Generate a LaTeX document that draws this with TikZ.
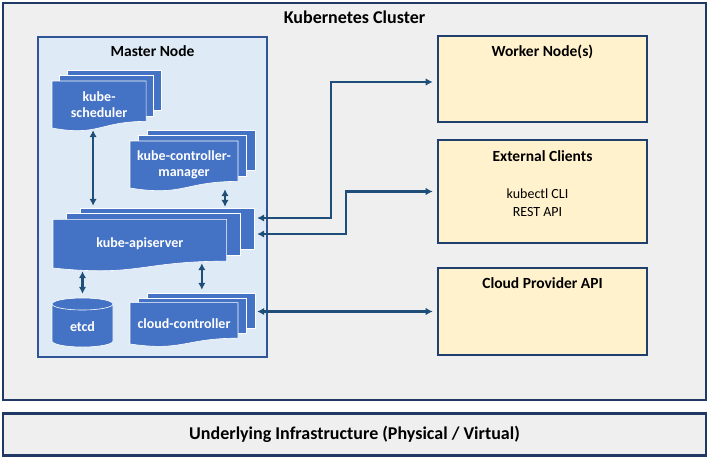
\documentclass[tikz,border=0pt]{standalone}
\usepackage{fontspec}
\setmainfont{Carlito}
\usetikzlibrary{positioning,calc,arrows.meta}

\definecolor{clustergray}{HTML}{EFEFEF}
\definecolor{clusterline}{HTML}{1F3864}
\definecolor{masterfill}{HTML}{DEEBF7}
\definecolor{masterline}{HTML}{2F5597}
\definecolor{workerfill}{HTML}{FFF2CC}
\definecolor{workerline}{HTML}{1F3F6E}
\definecolor{sheetblue}{HTML}{4472C4}
\definecolor{linkblue}{HTML}{1F4E79}

\newcommand\bigfont{\bfseries\fontsize{18}{20}\selectfont}
\newcommand\titlefont{\bfseries\fontsize{15.5}{18}\selectfont}
\newcommand\sheetfont{\bfseries\fontsize{14}{16}\selectfont}

% stacked documents: name, left, top, right, bottom, text
\newcommand\kubestack[6]{%
  \pgfmathsetmacro\kdx{0.068*(#4-#2)}%
  \pgfmathsetmacro\kdy{0.095*(#5-#3)}%
  \pgfmathsetmacro\kfr{#4-2*\kdx}%
  \pgfmathsetmacro\kft{#3+2*\kdy}%
  \pgfmathsetmacro\kfc{\kft+0.859*(#5-\kft)}%
  \pgfmathsetmacro\kfd{\kft+1.185*(#5-\kft)}%
  \pgfmathsetmacro\kfm{(#2+\kfr)/2}%
  \pgfmathsetmacro\kfw{\kfr-#2}%
  \pgfmathsetmacro\kfh{#5-\kft}%
  \pgfmathsetmacro\kbw{#4-#2}%
  \pgfmathsetmacro\kbh{#5-#3}%
  \foreach \k in {2,1}
    \draw[sheet] ({#2+\k*\kdx},{\kft-\k*\kdy}) rectangle ({\kfr+\k*\kdx},{\kfc-\k*\kdy});
  \draw[sheet] (#2,\kft) -- (\kfr,\kft) -- (\kfr,\kfc)
    .. controls (\kfm,\kfc) and (\kfm,\kfd) .. (#2,#5) -- cycle;
  \node[sheettext, minimum width=\kfw pt, minimum height=\kfh pt] (#1) at (\kfm,{(\kft+#5)/2}) {#6};
  \node[inner sep=0pt, minimum width=\kbw pt, minimum height=\kbh pt] (#1-back) at ({(#2+#4)/2},{(#3+#5)/2}) {};
}

\tikzset{
  clusterbox/.style={draw=clusterline, line width=2.6pt, fill=clustergray, inner sep=0pt},
  masterbox/.style={draw=masterline, line width=2pt, fill=masterfill, inner sep=0pt},
  workerbox/.style={draw=workerline, line width=2.6pt, fill=workerfill, inner sep=0pt,
    minimum width=209pt},
  sheet/.style={draw=white, line width=0.6pt, fill=sheetblue},
  sheettext/.style={text=white, font=\sheetfont, align=center, inner sep=0pt},
  titletext/.style={font=\titlefont, inner sep=0pt},
  link/.style={draw=linkblue, line width=2.4pt, <->},
}

\begin{document}
\begin{tikzpicture}[x=1pt, y=-1pt, >={Latex[length=7pt,width=7.5pt]}]
  \useasboundingbox (0,0) rectangle (709,459);

  % Cluster and infrastructure
  \node[clusterbox, minimum width=703pt, minimum height=397pt] (cluster) at (354.5,201.5) {};
  \node[font=\bigfont, inner sep=0pt] (clustertitle) at (354.5,17) {Kubernetes Cluster};
  \node[clusterbox, minimum width=703pt, minimum height=42pt, font=\bigfont] (infra) at (354.5,434.5)
    {Underlying Infrastructure (Physical / Virtual)};

  % Master node
  \node[masterbox, minimum width=229pt, minimum height=320pt] (master) at (152.5,197) {};
  \node[titletext] (mastertitle) at ([yshift=-15pt]master.north) {Master Node};

  \kubestack{sched}{52}{70}{161}{128}{kube-\\scheduler}
  \kubestack{ctrl}{130}{130}{255}{188}{kube-controller-\\manager}
  \kubestack{api}{53}{208}{254}{268}{kube-apiserver}
  \kubestack{cloud}{130}{293}{255}{344}{cloud-controller}

  % etcd
  \draw[sheet] (52,304) -- (52,341) arc[start angle=180, end angle=360, x radius=30.5pt, y radius=6pt]
    -- (113,304) arc[start angle=0, end angle=180, x radius=30.5pt, y radius=6pt] -- cycle;
  \draw[white, line width=0.6pt] (52,304) arc[start angle=180, end angle=360, x radius=30.5pt, y radius=6pt];
  \node[sheettext, minimum width=61pt, minimum height=58pt] (etcd) at (82.5,327) {etcd};

  % Right hand boxes
  \node[workerbox, minimum height=86pt] (worker) at (542.5,79) {};
  \node[titletext] (workertitle) at ([yshift=-17pt]worker.north) {Worker Node(s)};
  \node[workerbox, minimum height=103pt] (ext) at (542.5,191.5) {};
  \node[titletext] (exttitle) at ([yshift=-17pt]ext.north) {External Clients};
  \node[font=\fontsize{14}{18}\selectfont, align=center, inner sep=0pt] (exttext)
    at ([xshift=-5pt,yshift=-11.5pt]ext.center) {kubectl CLI\\REST API};
  \node[workerbox, minimum height=87pt] (cloudapi) at (542.5,311.5) {};
  \node[titletext] (cloudapititle) at ([yshift=-16pt]cloudapi.north) {Cloud Provider API};

  % Connections inside master
  \draw[link, shorten <=2pt, shorten >=2pt] ([xshift=-6pt]sched.south) -- ([xshift=-6pt]sched.south |- api-back.north);
  \draw[link, shorten <=1pt, shorten >=1pt] ([xshift=41pt]ctrl.south) -- ([xshift=41pt]ctrl.south |- api-back.north);
  \draw[link, shorten <=3pt, shorten >=4pt] (etcd.north |- api.south) -- (etcd.north);
  \draw[link, shorten >=3pt] ([xshift=62pt,yshift=5pt]api.south) -- ([xshift=62pt]api.south |- cloud-back.north);

  % Connections to the outside
  \draw[link, shorten <=3pt, shorten >=4pt] ([yshift=20pt]api-back.east) -- ++(77,0) |- ([yshift=-3pt]worker.west);
  \draw[link, shorten <=3pt, shorten >=4pt] ([yshift=4pt]api-back.east) -- ++(92,0) |- (ext.west);
  \draw[link, shorten <=2pt, shorten >=4pt] (cloud-back.east |- cloudapi.west) -- (cloudapi.west);
\end{tikzpicture}
\end{document}
